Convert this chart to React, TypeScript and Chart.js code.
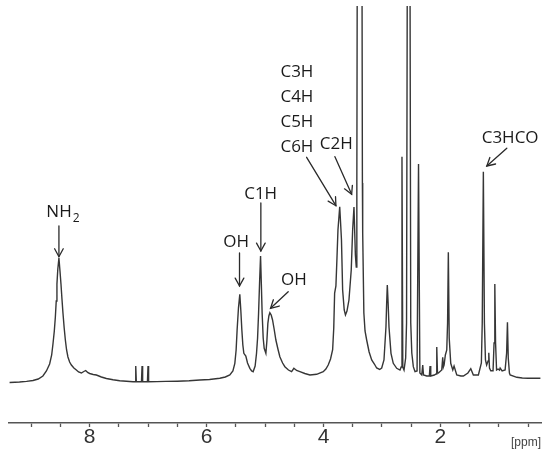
import React, { useEffect, useRef } from 'react';
import { Chart, registerables } from 'chart.js';

Chart.register(...registerables);

// Chemical shift (ppm) of each sampled point of the 1H NMR trace
const PPM = [
  9.37, 9.28, 9.2, 9.08, 8.97, 8.88, 8.8, 8.74, 8.685, 8.65, 8.628, 8.605, 8.587, 8.572, 8.56, 8.545,
  8.526, 8.508, 8.491, 8.474, 8.457, 8.436, 8.416, 8.395, 8.372, 8.343, 8.313, 8.27, 8.228, 8.19, 8.142,
  8.1, 8.068, 8.035, 8.0, 7.94, 7.885, 7.8, 7.714, 7.6, 7.486, 7.37, 7.259, 7.222, 7.212, 7.202, 7.114,
  7.104, 7.094, 7.012, 7.002, 6.992, 6.85, 6.7, 6.5, 6.3, 6.116, 5.95, 5.774, 5.68, 5.603, 5.55, 5.517,
  5.495, 5.478, 5.455, 5.432, 5.414, 5.397, 5.38, 5.363, 5.329, 5.3, 5.26, 5.23, 5.204, 5.17, 5.146,
  5.128, 5.111, 5.094, 5.077, 5.064, 5.05, 5.032, 5.015, 4.986, 4.969, 4.952, 4.935, 4.918, 4.895,
  4.872, 4.845, 4.815, 4.78, 4.747, 4.7, 4.661, 4.6, 4.546, 4.507, 4.46, 4.404, 4.32, 4.233, 4.118,
  4.005, 3.96, 3.92, 3.88, 3.844, 3.825, 3.81, 3.788, 3.77, 3.753, 3.723, 3.708, 3.693, 3.673, 3.646,
  3.625, 3.599, 3.565, 3.526, 3.502, 3.479, 3.466, 3.455, 3.44, 3.43, 3.423, 3.342, 3.335, 3.33, 3.31,
  3.29, 3.262, 3.22, 3.176, 3.13, 3.091, 3.04, 3.005, 2.966, 2.932, 2.92, 2.909, 2.895, 2.88, 2.846,
  2.807, 2.748, 2.692, 2.672, 2.658, 2.644, 2.623, 2.595, 2.58, 2.567, 2.521, 2.508, 2.49, 2.464, 2.435,
  2.4, 2.375, 2.352, 2.32, 2.303, 2.29, 2.235, 2.19, 2.178, 2.166, 2.104, 2.075, 2.063, 2.051, 2.036,
  1.978, 1.961, 1.95, 1.938, 1.916, 1.892, 1.878, 1.865, 1.85, 1.824, 1.789, 1.767, 1.721, 1.65, 1.608,
  1.53, 1.481, 1.437, 1.351, 1.3, 1.285, 1.266, 1.248, 1.23, 1.21, 1.185, 1.173, 1.161, 1.139, 1.1,
  1.083, 1.07, 1.057, 1.04, 1.014, 0.99, 0.979, 0.945, 0.894, 0.868, 0.854, 0.84, 0.82, 0.808, 0.694,
  0.6, 0.5, 0.29,
];

// Signal intensity (arbitrary units) at each ppm above
const INTENSITY = [
  0.5, 0.8, 1.0, 1.6, 2.5, 4, 7, 12, 19, 28, 39, 52, 66, 82, 99, 114,
  125, 112, 99, 84, 70, 55, 43, 33, 26, 21, 18, 15, 13, 11, 10,
  11.5, 12.5, 10.5, 9.5, 8.5, 8, 6, 4.5, 3.2, 2.3, 1.8, 1.3, 1.3, 17, 1.3, 1.2,
  17, 1.2, 1.2, 17, 1.2, 1.4, 1.6, 1.8, 2.2, 3, 3.5, 4.7, 6, 8, 12, 19.7,
  33, 53, 75, 88.7, 72, 53, 38, 29.7, 27, 20, 14.7, 12, 11.3, 17, 29.7,
  45, 69.7, 100, 127, 100, 69.7, 45, 34.7, 29.7, 42, 59.7, 67, 70.3, 68,
  63, 54, 43, 34, 26.3, 20, 16.3, 13, 11.3, 14.7, 12.5, 11.3, 9.5, 8, 8.7,
  11.3, 14, 18, 24, 33.3, 55, 90, 97, 125, 153, 176.3, 160, 143, 93, 73,
  68, 72, 83, 113, 153, 176, 150, 128, 116, 200, 420, 420, 200, 150, 70,
  52, 43, 31, 23, 19, 15, 13.5, 15, 23, 56, 80, 98, 80, 56, 29.7,
  19.7, 14.7, 13, 16, 226.3, 16, 13, 25, 60, 420, 420, 60, 30, 16.3, 11.3,
  12, 219, 10, 8, 18, 8, 7, 7, 17, 7, 8, 9, 36, 10, 10,
  13, 25.7, 16, 18, 28, 33, 60, 130.7, 45, 19.7, 13, 17, 8, 7, 7,
  10, 14.3, 8, 8, 20, 60, 211.3, 60, 23, 18, 22, 30.3, 15, 12.3, 12.3,
  40, 99, 40, 13, 14, 13, 15, 12, 13, 30, 60.7, 25, 10, 8, 5.7,
  5, 4.8, 4.7,
];

const AXIS_TICKS = [9, 8.5, 8, 7.5, 7, 6.5, 6, 5.5, 5, 4.5, 4, 3.5, 3, 2.5, 2, 1.5, 1, 0.5];
const LABELED_TICKS = [8, 6, 4, 2];
const X_MIN = 0.28;
const X_MAX = 9.38;
const Y_MIN = -40;
const Y_MAX = 377;
const UNIT_LABEL = '[ppm]';

type Annotation = {
  lines: string[];
  sub?: string;
  textAt: [number, number];
  align: CanvasTextAlign;
  tail: [number, number];
  tip: [number, number];
};

const ANNOTATIONS: Annotation[] = [
  { lines: ['NH'], sub: '2', textAt: [8.741, 165.7], align: 'left', tail: [8.526, 157], tip: [8.526, 126.3] },
  { lines: ['OH'], textAt: [5.495, 136.3], align: 'center', tail: [5.437, 130], tip: [5.437, 97] },
  { lines: ['C1H'], textAt: [5.075, 184], align: 'center', tail: [5.072, 180], tip: [5.072, 132] },
  { lines: ['OH'], textAt: [4.507, 98], align: 'center', tail: [4.604, 91.3], tip: [4.906, 74.7] },
  { lines: ['C3H', 'C4H', 'C5H', 'C6H'], textAt: [4.455, 305.7], align: 'center', tail: [4.289, 225.7], tip: [3.788, 177.3] },
  { lines: ['C2H'], textAt: [3.783, 234.3], align: 'center', tail: [3.805, 226.3], tip: [3.519, 188.7] },
  { lines: ['C3HCO'], textAt: [0.808, 239.7], align: 'center', tail: [0.865, 234.7], tip: [1.207, 217] },
];

const LABEL_FONT = '17px "Open Sans"';
const SUB_FONT = '12px "Open Sans"';
const LINE_GAP = 24.8;

const peakLabels = {
  id: 'peakLabels',
  afterDatasetsDraw(chart: any) {
    const { ctx, scales } = chart;
    const xs = scales.x;
    const ys = scales.y;
    ctx.save();
    ANNOTATIONS.forEach((a) => {
      const x1 = xs.getPixelForValue(a.tail[0]);
      const y1 = ys.getPixelForValue(a.tail[1]);
      const x2 = xs.getPixelForValue(a.tip[0]);
      const y2 = ys.getPixelForValue(a.tip[1]);
      ctx.strokeStyle = '#2a2a2a';
      ctx.lineWidth = 1.3;
      ctx.lineCap = 'round';
      ctx.beginPath();
      ctx.moveTo(x1, y1);
      ctx.lineTo(x2, y2);
      ctx.stroke();
      const ang = Math.atan2(y2 - y1, x2 - x1);
      const L = 9;
      const spread = 0.5;
      ctx.beginPath();
      ctx.moveTo(x2 - L * Math.cos(ang - spread), y2 - L * Math.sin(ang - spread));
      ctx.lineTo(x2, y2);
      ctx.lineTo(x2 - L * Math.cos(ang + spread), y2 - L * Math.sin(ang + spread));
      ctx.stroke();

      ctx.fillStyle = '#1a1a1a';
      ctx.font = LABEL_FONT;
      ctx.textBaseline = 'alphabetic';
      ctx.textAlign = a.align;
      const tx = xs.getPixelForValue(a.textAt[0]);
      const ty = ys.getPixelForValue(a.textAt[1]);
      a.lines.forEach((line, i) => {
        ctx.fillText(line, tx, ty + i * LINE_GAP);
      });
      if (a.sub) {
        const w = ctx.measureText(a.lines[0]).width;
        ctx.font = SUB_FONT;
        ctx.textAlign = 'left';
        ctx.fillText(a.sub, tx + w + 1, ty + 4.4);
      }
    });
    ctx.fillStyle = '#444';
    ctx.font = '12px "Liberation Sans"';
    ctx.textAlign = 'right';
    ctx.textBaseline = 'alphabetic';
    ctx.fillText(UNIT_LABEL, chart.chartArea.right, 445.5);
    ctx.restore();
  },
};

export default function App() {
  const ref = useRef<HTMLCanvasElement | null>(null);

  useEffect(() => {
    document.body.style.margin = '0';
    const canvas = ref.current;
    if (!canvas) return;
    const points = PPM.map((p, i) => ({ x: p, y: INTENSITY[i] }));
    const chart = new Chart(canvas, {
      type: 'line',
      data: {
        datasets: [
          {
            data: points,
            borderColor: '#363636',
            borderWidth: 1.4,
            pointRadius: 0,
            tension: 0,
            fill: false,
            clip: 0,
          },
        ],
      },
      options: {
        animation: false,
        responsive: false,
        devicePixelRatio: 1,
        layout: { padding: { left: 9, right: 9, top: 6, bottom: 0 } },
        plugins: {
          legend: { display: false },
          tooltip: { enabled: false },
          title: { display: false },
        },
        scales: {
          x: {
            type: 'linear',
            reverse: true,
            min: X_MIN,
            max: X_MAX,
            afterBuildTicks: (scale: any) => {
              scale.ticks = AXIS_TICKS.map((v) => ({ value: v }));
            },
            afterFit: (scale: any) => {
              scale.height = 33;
            },
            border: { display: true, color: '#555', width: 1.6 },
            grid: {
              display: true,
              drawOnChartArea: false,
              drawTicks: true,
              tickLength: 4,
              tickColor: '#555',
              tickWidth: 1.3,
            },
            ticks: {
              autoSkip: false,
              maxRotation: 0,
              minRotation: 0,
              padding: -2,
              color: '#333',
              font: { family: '"Liberation Sans", Arial, sans-serif', size: 21 },
              callback: (value: any) => (LABELED_TICKS.includes(Number(value)) ? String(value) : ''),
            },
          },
          y: {
            display: false,
            min: Y_MIN,
            max: Y_MAX,
          },
        },
      },
      plugins: [peakLabels],
    });
    return () => chart.destroy();
  }, []);

  return (
    <div style={{ position: 'absolute', left: 0, top: 0, width: 550, height: 456 }}>
      <canvas ref={ref} width={550} height={456} />
    </div>
  );
}
